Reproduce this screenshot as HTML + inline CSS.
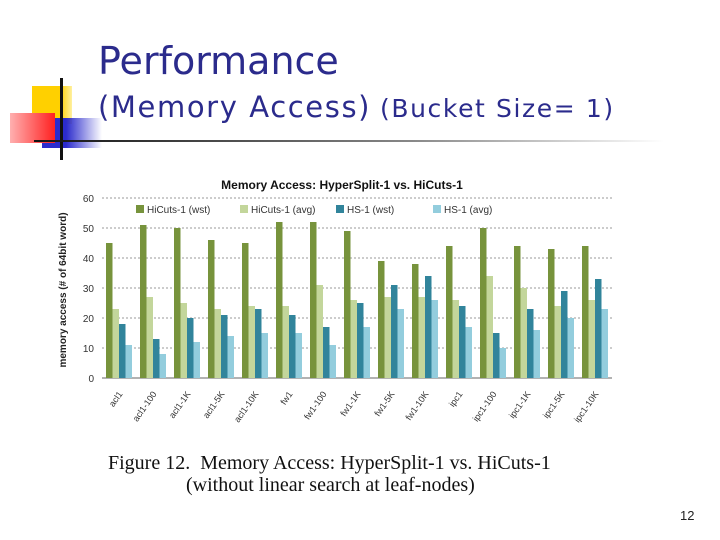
<!DOCTYPE html>
<html><head><meta charset="utf-8">
<style>
body{margin:0;width:720px;height:540px;background:#fff;overflow:hidden;position:relative;font-family:"Liberation Sans",sans-serif}
.t{position:absolute;color:#2b2b8c;font-family:"DejaVu Sans","Liberation Sans",sans-serif;white-space:nowrap}
</style></head><body>
<div>
<div style="position:absolute;left:32px;top:86px;width:40px;height:38px;background:linear-gradient(90deg,#ffd000,#ffd000 70%,#fff0a0)"></div>
<div style="position:absolute;left:42px;top:118px;width:60px;height:30px;background:linear-gradient(90deg,#2b2bcc,#2b2bcc 40%,rgba(255,255,255,0))"></div>
<div style="position:absolute;left:10px;top:113px;width:45px;height:30px;background:linear-gradient(90deg,#ffb0b0,#ff2020)"></div>
<div style="position:absolute;left:60px;top:78px;width:3px;height:82px;background:#111"></div>
<div style="position:absolute;left:34px;top:140px;width:630px;height:2px;background:linear-gradient(90deg,#111,#888 60%,#fff)"></div>
</div>
<div class="t" style="left:98px;top:39px;font-size:38px">Performance</div>
<div class="t" style="left:98px;top:90px;font-size:29px;letter-spacing:1.6px">(Memory Access)</div>
<div class="t" style="left:380px;top:94px;font-size:25px;letter-spacing:1.6px">(Bucket Size= 1)</div>
<svg id="chart" width="720" height="540" style="position:absolute;left:0;top:0"></svg>
<div style="position:absolute;left:108px;top:452px;font-family:'Liberation Serif',serif;font-size:20px;line-height:22px;color:#111;white-space:nowrap">Figure 12.&nbsp; Memory Access: HyperSplit-1 vs. HiCuts-1<br><span style="padding-left:78px">(without linear search at leaf-nodes)</span></div>
<div style="position:absolute;left:680px;top:508px;font-size:13px;color:#222">12</div>
<script>
const categories=["acl1","acl1-100","acl1-1K","acl1-5K","acl1-10K","fw1","fw1-100","fw1-1K","fw1-5K","fw1-10K","ipc1","ipc1-100","ipc1-1K","ipc1-5K","ipc1-10K"];
const hicutsWst=[45,51,50,46,45,52,52,49,39,38,44,50,44,43,44];
const hicutsAvg=[23,27,25,23,24,24,31,26,27,27,26,34,30,24,26];
const hsWst=[18,13,20,21,23,21,17,25,31,34,24,15,23,29,33];
const hsAvg=[11,8,12,14,15,15,11,17,23,26,17,10,16,20,23];
const seriesNames=["HiCuts-1 (wst)","HiCuts-1 (avg)","HS-1 (wst)","HS-1 (avg)"];
const yTicks=[0,10,20,30,40,50,60];
const colors=["#77933c","#c3d69b","#31849b","#93cddd"];
const series=[hicutsWst,hicutsAvg,hsWst,hsAvg];
const svg=document.getElementById('chart');const NS="http://www.w3.org/2000/svg";
const X0=102,X1=612,Y0=378,Y1=198;
const y=v=>Y0-(v/60)*(Y0-Y1);
const step=(X1-X0)/categories.length;
const bw=6.5;
function mk(t,a){const e=document.createElementNS(NS,t);for(const k in a)e.setAttribute(k,a[k]);svg.appendChild(e);return e;}
yTicks.forEach(v=>{
 if(v>0){const g=mk('line',{x1:X0,x2:X1,y1:y(v),y2:y(v),stroke:'#999','stroke-dasharray':'2,2','stroke-width':1});
 
 }
 const t=mk('text',{x:X0-8,y:y(v)+4,'text-anchor':'end','font-size':10,fill:'#333'});t.textContent=v;
 
 
});
const ax=mk('line',{x1:X0,x2:X1,y1:Y0,y2:Y0,stroke:'#666'});


categories.forEach((c,i)=>{
 const cx=X0+step*(i+0.5);
 series.forEach((s,j)=>{
  const r=mk('rect',{x:cx-2*bw+j*bw,y:y(s[i]),width:bw,height:Y0-y(s[i]),fill:colors[j]});
  
  
 });
 const t=mk('text',{x:cx+4,y:Y0+16,'text-anchor':'end','font-size':9,fill:'#333',transform:`rotate(-55 ${cx+4} ${Y0+16})`});t.textContent=c;
 
 
});
const tt=mk('text',{x:342,y:189,'text-anchor':'middle','font-size':12,'font-weight':'bold',fill:'#111'});tt.textContent="Memory Access: HyperSplit-1 vs. HiCuts-1";


const yl=mk('text',{x:66,y:290,'text-anchor':'middle','font-size':10,'font-weight':'bold',fill:'#222',transform:'rotate(-90 66 290)'});yl.textContent="memory access (# of 64bit word)";


const lx=[136,240,336,433];
seriesNames.forEach((n,j)=>{
 const r=mk('rect',{x:lx[j],y:205,width:8,height:8,fill:colors[j]});
 
 
 const t=mk('text',{x:lx[j]+11,y:213,'font-size':10,fill:'#333'});t.textContent=n;
 
 
});
</script>
</body></html>
